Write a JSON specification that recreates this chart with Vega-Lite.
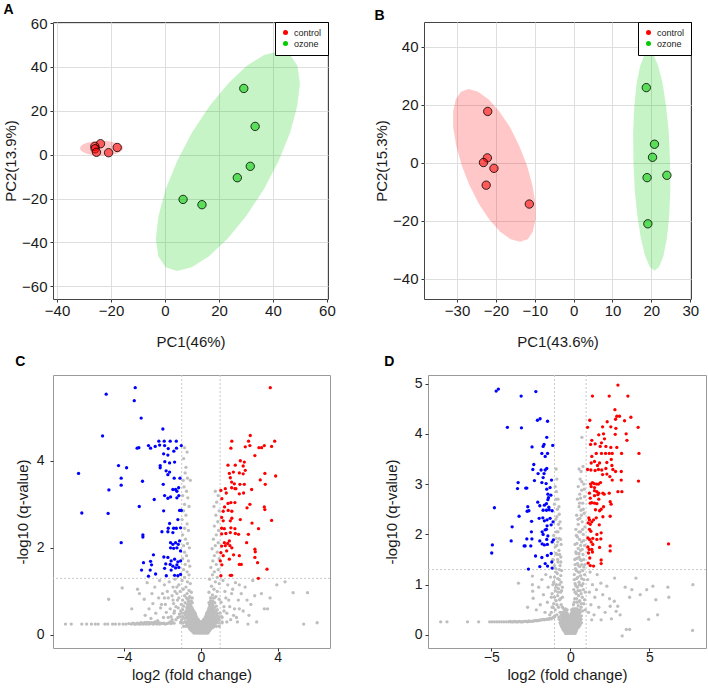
{
"$schema": "https://vega.github.io/schema/vega-lite/v6.json",
"padding": {"left": 3, "top": 2, "right": 0, "bottom": 0},
"background": "white",
"datasets": {
"aPts": [
{"g":"control","x":-23.9,"y":5.0},{"g":"control","x":-26.0,"y":3.8},{"g":"control","x":-25.9,"y":2.7},{"g":"control","x":-25.4,"y":1.1},{"g":"control","x":-20.9,"y":0.9},{"g":"control","x":-17.7,"y":3.3},
{"g":"ozone","x":29.2,"y":30.2},{"g":"ozone","x":33.4,"y":12.9},{"g":"ozone","x":31.6,"y":-5.3},{"g":"ozone","x":26.8,"y":-10.5},{"g":"ozone","x":6.7,"y":-20.4},{"g":"ozone","x":13.7,"y":-22.8}],
"bPts": [
{"g":"control","x":-22.1,"y":17.7},{"g":"control","x":-22.2,"y":1.7},{"g":"control","x":-23.2,"y":0.1},{"g":"control","x":-20.5,"y":-1.9},{"g":"control","x":-22.5,"y":-7.7},{"g":"control","x":-11.4,"y":-14.2},
{"g":"ozone","x":18.7,"y":25.9},{"g":"ozone","x":20.8,"y":6.4},{"g":"ozone","x":20.3,"y":1.9},{"g":"ozone","x":18.9,"y":-5.1},{"g":"ozone","x":24.0,"y":-4.3},{"g":"ozone","x":19.1,"y":-21.0}],
"aEll": [
{"g":"control","t":0,"x":-23.5,"y":6.3},{"g":"control","t":15,"x":-21.4,"y":6.2},{"g":"control","t":30,"x":-19.5,"y":5.8},{"g":"control","t":45,"x":-17.8,"y":5.3},{"g":"control","t":60,"x":-16.6,"y":4.6},{"g":"control","t":75,"x":-15.8,"y":3.8},{"g":"control","t":90,"x":-15.5,"y":2.9},{"g":"control","t":105,"x":-15.8,"y":2.0},{"g":"control","t":120,"x":-16.6,"y":1.2},{"g":"control","t":135,"x":-17.8,"y":0.5},{"g":"control","t":150,"x":-19.5,"y":0.0},{"g":"control","t":165,"x":-21.4,"y":-0.4},{"g":"control","t":180,"x":-23.5,"y":-0.5},{"g":"control","t":195,"x":-25.6,"y":-0.4},{"g":"control","t":210,"x":-27.5,"y":0.0},{"g":"control","t":225,"x":-29.2,"y":0.5},{"g":"control","t":240,"x":-30.4,"y":1.2},{"g":"control","t":255,"x":-31.2,"y":2.0},{"g":"control","t":270,"x":-31.5,"y":2.9},{"g":"control","t":285,"x":-31.2,"y":3.8},{"g":"control","t":300,"x":-30.4,"y":4.6},{"g":"control","t":315,"x":-29.2,"y":5.3},{"g":"control","t":330,"x":-27.5,"y":5.8},{"g":"control","t":345,"x":-25.6,"y":6.2},
{"g":"ozone","t":0,"x":42.2,"y":47.2},{"g":"ozone","t":15,"x":46.4,"y":45.5},{"g":"ozone","t":30,"x":49.1,"y":40.5},{"g":"ozone","t":45,"x":50.0,"y":32.5},{"g":"ozone","t":60,"x":49.0,"y":22.2},{"g":"ozone","t":75,"x":46.4,"y":10.1},{"g":"ozone","t":90,"x":42.1,"y":-2.9},{"g":"ozone","t":105,"x":36.6,"y":-15.9},{"g":"ozone","t":120,"x":30.1,"y":-28.0},{"g":"ozone","t":135,"x":23.2,"y":-38.3},{"g":"ozone","t":150,"x":16.3,"y":-46.3},{"g":"ozone","t":165,"x":9.9,"y":-51.3},{"g":"ozone","t":180,"x":4.4,"y":-53.0},{"g":"ozone","t":195,"x":0.2,"y":-51.3},{"g":"ozone","t":210,"x":-2.5,"y":-46.3},{"g":"ozone","t":225,"x":-3.4,"y":-38.3},{"g":"ozone","t":240,"x":-2.4,"y":-28.0},{"g":"ozone","t":255,"x":0.2,"y":-15.9},{"g":"ozone","t":270,"x":4.5,"y":-2.9},{"g":"ozone","t":285,"x":10.0,"y":10.1},{"g":"ozone","t":300,"x":16.5,"y":22.2},{"g":"ozone","t":315,"x":23.4,"y":32.5},{"g":"ozone","t":330,"x":30.3,"y":40.5},{"g":"ozone","t":345,"x":36.7,"y":45.5}],
"bEll": [
{"g":"control","t":0,"x":-27.0,"y":25.4},{"g":"control","t":15,"x":-24.6,"y":24.5},{"g":"control","t":30,"x":-21.9,"y":21.9},{"g":"control","t":45,"x":-19.1,"y":17.7},{"g":"control","t":60,"x":-16.4,"y":12.3},{"g":"control","t":75,"x":-14.0,"y":5.9},{"g":"control","t":90,"x":-12.0,"y":-0.9},{"g":"control","t":105,"x":-10.6,"y":-7.7},{"g":"control","t":120,"x":-9.8,"y":-14.1},{"g":"control","t":135,"x":-9.8,"y":-19.5},{"g":"control","t":150,"x":-10.5,"y":-23.7},{"g":"control","t":165,"x":-11.8,"y":-26.3},{"g":"control","t":180,"x":-13.8,"y":-27.2},{"g":"control","t":195,"x":-16.2,"y":-26.3},{"g":"control","t":210,"x":-18.9,"y":-23.7},{"g":"control","t":225,"x":-21.7,"y":-19.5},{"g":"control","t":240,"x":-24.4,"y":-14.1},{"g":"control","t":255,"x":-26.8,"y":-7.7},{"g":"control","t":270,"x":-28.8,"y":-0.9},{"g":"control","t":285,"x":-30.2,"y":5.9},{"g":"control","t":300,"x":-31.0,"y":12.3},{"g":"control","t":315,"x":-31.0,"y":17.7},{"g":"control","t":330,"x":-30.3,"y":21.9},{"g":"control","t":345,"x":-29.0,"y":24.5},
{"g":"ozone","t":0,"x":19.4,"y":38.4},{"g":"ozone","t":15,"x":20.6,"y":37.1},{"g":"ozone","t":30,"x":21.8,"y":33.3},{"g":"ozone","t":45,"x":22.9,"y":27.3},{"g":"ozone","t":60,"x":23.8,"y":19.5},{"g":"ozone","t":75,"x":24.5,"y":10.4},{"g":"ozone","t":90,"x":24.8,"y":0.6},{"g":"ozone","t":105,"x":24.9,"y":-9.2},{"g":"ozone","t":120,"x":24.6,"y":-18.3},{"g":"ozone","t":135,"x":24.0,"y":-26.1},{"g":"ozone","t":150,"x":23.1,"y":-32.1},{"g":"ozone","t":165,"x":22.0,"y":-35.9},{"g":"ozone","t":180,"x":20.8,"y":-37.2},{"g":"ozone","t":195,"x":19.6,"y":-35.9},{"g":"ozone","t":210,"x":18.4,"y":-32.1},{"g":"ozone","t":225,"x":17.3,"y":-26.1},{"g":"ozone","t":240,"x":16.4,"y":-18.3},{"g":"ozone","t":255,"x":15.7,"y":-9.2},{"g":"ozone","t":270,"x":15.4,"y":0.6},{"g":"ozone","t":285,"x":15.3,"y":10.4},{"g":"ozone","t":300,"x":15.6,"y":19.5},{"g":"ozone","t":315,"x":16.2,"y":27.3},{"g":"ozone","t":330,"x":17.1,"y":33.3},{"g":"ozone","t":345,"x":18.2,"y":37.1}],
"cGray": [
{"x":-7.05,"y":0.25},{"x":-6.75,"y":0.25},{"x":-6.2,"y":0.25},{"x":-5.95,"y":0.25},{"x":-5.7,"y":0.25},{"x":-5.5,"y":0.25},{"x":-5.35,"y":0.25},{"x":-5.0,"y":0.25},{"x":-4.85,"y":0.25},{"x":-4.6,"y":0.25},{"x":-4.45,"y":0.25},{"x":-4.25,"y":0.25},{"x":-4.05,"y":0.25},{"x":-3.9,"y":0.25},{"x":-3.75,"y":0.26},{"x":-3.62,"y":0.25},{"x":-3.5,"y":0.26},{"x":-3.4,"y":0.25},{"x":-3.3,"y":0.27},{"x":-3.2,"y":0.26},{"x":-3.12,"y":0.28},{"x":-3.05,"y":0.27},{"x":-2.97,"y":0.26},{"x":-2.9,"y":0.28},{"x":-2.82,"y":0.27},{"x":-2.75,"y":0.26},{"x":-2.68,"y":0.28},{"x":-2.6,"y":0.27},{"x":-2.52,"y":0.26},{"x":-2.45,"y":0.28},{"x":-2.38,"y":0.3},{"x":-2.32,"y":0.27},{"x":-2.25,"y":0.33},{"x":-2.15,"y":0.25},{"x":-2.0,"y":0.26},{"x":-1.85,"y":0.25},{"x":-1.7,"y":0.27},
{"x":-3.55,"y":0.27},{"x":-3.45,"y":0.25},{"x":-3.35,"y":0.26},{"x":-3.25,"y":0.25},{"x":-3.15,"y":0.25},{"x":-3.08,"y":0.26},{"x":-3.0,"y":0.25},{"x":-2.93,"y":0.28},{"x":-2.86,"y":0.25},{"x":-2.78,"y":0.29},{"x":-2.71,"y":0.25},{"x":-2.64,"y":0.26},{"x":-2.56,"y":0.28},{"x":-2.48,"y":0.25},{"x":-2.41,"y":0.26},{"x":-2.28,"y":0.25},{"x":-2.2,"y":0.28},{"x":-2.1,"y":0.27},{"x":-1.93,"y":0.27},{"x":-1.78,"y":0.26},{"x":-1.62,"y":0.28},{"x":-1.55,"y":0.26},{"x":-1.48,"y":0.29},{"x":-1.4,"y":0.27},
{"x":-4.1,"y":1.08},{"x":-4.8,"y":0.82},{"x":-3.3,"y":1.05},{"x":-3.2,"y":0.95},{"x":-2.95,"y":0.82},{"x":-2.8,"y":1.2},{"x":-2.7,"y":0.6},{"x":-2.55,"y":0.95},{"x":-2.5,"y":0.72},{"x":-2.4,"y":1.1},{"x":-2.35,"y":0.5},{"x":-2.2,"y":0.85},{"x":-2.15,"y":1.25},{"x":-2.1,"y":0.62},{"x":-2.0,"y":0.95},{"x":-1.95,"y":0.4},{"x":-1.9,"y":1.15},{"x":-1.85,"y":0.7},{"x":-1.8,"y":0.52},{"x":-1.75,"y":1.0},{"x":-1.7,"y":0.85},{"x":-1.65,"y":1.22},{"x":-1.6,"y":0.6},{"x":-1.55,"y":0.42},{"x":-1.5,"y":0.9},{"x":-1.45,"y":1.1},{"x":-1.42,"y":0.72},{"x":-1.38,"y":0.55},{"x":-1.35,"y":1.28},{"x":-1.3,"y":0.35},{"x":-1.25,"y":0.95},{"x":-1.22,"y":0.8},{"x":-1.18,"y":0.62},{"x":-1.15,"y":1.15},{"x":-1.12,"y":0.48},{"x":-1.08,"y":1.0},{"x":-1.05,"y":0.3},{"x":-1.02,"y":0.7},{"x":-2.6,"y":0.38},{"x":-3.6,"y":0.6},{"x":-2.9,"y":0.45},{"x":-1.6,"y":0.3},
{"x":-1.5,"y":0.35},{"x":-1.4,"y":0.5},{"x":-1.3,"y":0.65},{"x":-1.2,"y":0.4},{"x":-1.15,"y":0.85},{"x":-1.05,"y":0.55},{"x":-1.45,"y":0.8},{"x":-1.35,"y":1.0},{"x":-1.25,"y":1.1},{"x":-1.7,"y":0.4},{"x":-1.9,"y":0.85},{"x":-2.05,"y":0.7},
{"x":-0.85,"y":4.3},{"x":-0.72,"y":4.2},{"x":-0.9,"y":4.05},{"x":-0.78,"y":3.85},{"x":-0.82,"y":3.72},{"x":-0.7,"y":3.6},{"x":-0.92,"y":3.55},{"x":-0.55,"y":3.55},{"x":-0.88,"y":3.4},{"x":-0.75,"y":3.3},{"x":-0.95,"y":3.2},{"x":-0.68,"y":3.15},{"x":-0.85,"y":3.0},{"x":-0.62,"y":2.95},{"x":-0.9,"y":2.85},{"x":-0.78,"y":2.75},{"x":-0.98,"y":2.65},{"x":-0.72,"y":2.55},{"x":-0.85,"y":2.45},{"x":-0.65,"y":2.4},{"x":-0.95,"y":2.3},{"x":-0.8,"y":2.2},{"x":-0.7,"y":2.1},{"x":-0.9,"y":2.05},{"x":-0.6,"y":2.0},{"x":-0.85,"y":1.9},{"x":-0.75,"y":1.82},{"x":-0.95,"y":1.75},{"x":-0.65,"y":1.7},{"x":-0.82,"y":1.62},{"x":-0.58,"y":1.58},{"x":-0.9,"y":1.5},{"x":-0.72,"y":1.45},{"x":-0.62,"y":1.38},{"x":-0.85,"y":1.32},{"x":-0.98,"y":1.25},{"x":-0.7,"y":1.22},{"x":-0.55,"y":1.18},{"x":-0.78,"y":1.1},{"x":-0.92,"y":1.05},{"x":-0.62,"y":1.02},{"x":-0.5,"y":0.98},{"x":-0.72,"y":0.95},{"x":-0.85,"y":0.9},{"x":-0.58,"y":0.88},{"x":-0.45,"y":0.85},{"x":-0.68,"y":0.82},{"x":-0.95,"y":0.8},
{"x":0.75,"y":3.3},{"x":0.9,"y":3.2},{"x":0.82,"y":3.05},{"x":0.68,"y":2.95},{"x":0.95,"y":2.85},{"x":0.78,"y":2.75},{"x":0.88,"y":2.6},{"x":0.7,"y":2.5},{"x":0.92,"y":2.4},{"x":0.8,"y":2.3},{"x":0.65,"y":2.2},{"x":0.9,"y":2.12},{"x":0.75,"y":2.05},{"x":0.58,"y":1.98},{"x":0.85,"y":1.9},{"x":0.7,"y":1.82},{"x":0.95,"y":1.75},{"x":0.62,"y":1.7},{"x":0.8,"y":1.62},{"x":0.52,"y":1.55},{"x":0.9,"y":1.5},{"x":0.7,"y":1.45},{"x":0.6,"y":1.38},{"x":0.85,"y":1.32},{"x":0.45,"y":1.28},{"x":0.75,"y":1.22},{"x":0.95,"y":1.18},{"x":0.55,"y":1.12},{"x":0.68,"y":1.05},{"x":0.85,"y":1.0},{"x":0.42,"y":0.98},{"x":0.6,"y":0.92},{"x":0.78,"y":0.88},{"x":0.5,"y":0.85},{"x":0.95,"y":0.82},
{"x":4.38,"y":1.22},{"x":3.95,"y":1.15},{"x":4.8,"y":0.97},{"x":5.55,"y":0.97},{"x":5.35,"y":0.25},{"x":6.05,"y":0.28},{"x":3.3,"y":0.6},{"x":3.47,"y":0.6},{"x":2.8,"y":0.9},{"x":2.6,"y":0.7},{"x":3.15,"y":0.95},{"x":2.3,"y":1.1},{"x":2.2,"y":0.55},{"x":1.95,"y":0.8},{"x":1.8,"y":1.2},{"x":1.7,"y":0.45},{"x":1.6,"y":0.95},{"x":1.5,"y":0.65},{"x":1.4,"y":1.15},{"x":1.35,"y":0.3},{"x":1.3,"y":0.85},{"x":1.2,"y":0.55},{"x":1.15,"y":1.25},{"x":1.1,"y":0.4},{"x":1.05,"y":0.75},{"x":2.45,"y":0.25},{"x":2.9,"y":0.3},{"x":1.9,"y":0.3},{"x":2.7,"y":1.25},{"x":3.6,"y":0.85},{"x":2.5,"y":0.45},{"x":2.1,"y":0.95},
{"x":1.1,"y":0.3},{"x":1.2,"y":0.65},{"x":1.25,"y":1.0},{"x":1.35,"y":0.5},{"x":1.45,"y":0.8},{"x":1.55,"y":0.35},{"x":1.65,"y":1.05},{"x":1.75,"y":0.6},{"x":1.85,"y":0.4},{"x":2.0,"y":0.6},{"x":2.4,"y":0.8},{"x":2.0,"y":1.15},
{"x":-0.35,"y":0.04},{"x":-0.22,"y":0.04},{"x":-0.1,"y":0.04},{"x":0.0,"y":0.04},{"x":0.1,"y":0.04},{"x":0.22,"y":0.04},{"x":0.34,"y":0.04},
{"x":-0.42,"y":0.07},{"x":-0.29,"y":0.07},{"x":-0.16,"y":0.07},{"x":-0.05,"y":0.07},{"x":0.05,"y":0.07},{"x":0.16,"y":0.07},{"x":0.28,"y":0.07},{"x":0.4,"y":0.07},
{"x":-0.5,"y":0.1},{"x":-0.38,"y":0.1},{"x":-0.26,"y":0.1},{"x":-0.14,"y":0.1},{"x":-0.03,"y":0.1},{"x":0.08,"y":0.1},{"x":0.2,"y":0.1},{"x":0.32,"y":0.1},{"x":0.45,"y":0.1},
{"x":-0.56,"y":0.13},{"x":-0.44,"y":0.13},{"x":-0.32,"y":0.13},{"x":-0.2,"y":0.13},{"x":-0.08,"y":0.13},{"x":0.02,"y":0.13},{"x":0.14,"y":0.13},{"x":0.26,"y":0.13},{"x":0.38,"y":0.13},{"x":0.5,"y":0.13},
{"x":-0.62,"y":0.17},{"x":-0.5,"y":0.17},{"x":-0.4,"y":0.17},{"x":-0.29,"y":0.17},{"x":-0.18,"y":0.17},{"x":-0.07,"y":0.17},{"x":0.04,"y":0.17},{"x":0.15,"y":0.17},{"x":0.27,"y":0.17},{"x":0.38,"y":0.17},{"x":0.5,"y":0.17},{"x":0.63,"y":0.17},
{"x":-0.9,"y":0.2},{"x":-0.78,"y":0.2},{"x":-0.66,"y":0.2},{"x":-0.55,"y":0.2},{"x":-0.44,"y":0.2},{"x":-0.34,"y":0.2},{"x":-0.23,"y":0.2},{"x":-0.12,"y":0.2},{"x":-0.01,"y":0.2},{"x":0.1,"y":0.2},{"x":0.21,"y":0.2},{"x":0.32,"y":0.2},{"x":0.44,"y":0.2},{"x":0.56,"y":0.2},{"x":0.68,"y":0.2},{"x":0.8,"y":0.2},{"x":0.95,"y":0.2},
{"x":-0.72,"y":0.24},{"x":-0.6,"y":0.24},{"x":-0.47,"y":0.24},{"x":-0.35,"y":0.24},{"x":-0.24,"y":0.24},{"x":-0.12,"y":0.24},{"x":0.0,"y":0.24},{"x":0.12,"y":0.24},{"x":0.24,"y":0.24},{"x":0.35,"y":0.24},{"x":0.47,"y":0.24},{"x":0.6,"y":0.24},{"x":0.72,"y":0.24},
{"x":-1.05,"y":0.28},{"x":-0.92,"y":0.28},{"x":-0.76,"y":0.28},{"x":-0.64,"y":0.28},{"x":-0.5,"y":0.28},{"x":-0.38,"y":0.28},{"x":-0.27,"y":0.28},{"x":-0.15,"y":0.28},{"x":-0.03,"y":0.28},{"x":0.09,"y":0.28},{"x":0.21,"y":0.28},{"x":0.29,"y":0.28},{"x":0.41,"y":0.28},{"x":0.53,"y":0.28},{"x":0.65,"y":0.28},{"x":0.78,"y":0.28},{"x":0.92,"y":0.28},{"x":1.1,"y":0.28},
{"x":-0.8,"y":0.31},{"x":-0.66,"y":0.31},{"x":-0.53,"y":0.31},{"x":-0.41,"y":0.31},{"x":-0.3,"y":0.31},{"x":-0.18,"y":0.31},{"x":-0.06,"y":0.31},{"x":0.07,"y":0.31},{"x":0.19,"y":0.31},{"x":0.31,"y":0.31},{"x":0.43,"y":0.31},{"x":0.55,"y":0.31},{"x":0.68,"y":0.31},{"x":0.82,"y":0.31},
{"x":-1.0,"y":0.35},{"x":-0.62,"y":0.35},{"x":-0.5,"y":0.35},{"x":-0.38,"y":0.35},{"x":-0.26,"y":0.35},{"x":-0.13,"y":0.35},{"x":0.13,"y":0.35},{"x":0.26,"y":0.35},{"x":0.4,"y":0.35},{"x":0.52,"y":0.35},{"x":0.64,"y":0.35},{"x":0.78,"y":0.35},{"x":0.95,"y":0.35},
{"x":-0.85,"y":0.38},{"x":-0.7,"y":0.38},{"x":-0.58,"y":0.38},{"x":-0.46,"y":0.38},{"x":-0.33,"y":0.38},{"x":-0.2,"y":0.38},{"x":0.2,"y":0.38},{"x":0.33,"y":0.38},{"x":0.46,"y":0.38},{"x":0.58,"y":0.38},{"x":0.72,"y":0.38},{"x":0.88,"y":0.38},
{"x":-1.1,"y":0.42},{"x":-0.95,"y":0.42},{"x":-0.76,"y":0.42},{"x":-0.62,"y":0.42},{"x":-0.5,"y":0.42},{"x":-0.37,"y":0.42},{"x":-0.24,"y":0.42},{"x":0.24,"y":0.42},{"x":0.37,"y":0.42},{"x":0.5,"y":0.42},{"x":0.62,"y":0.42},{"x":0.76,"y":0.42},{"x":0.92,"y":0.42},{"x":1.08,"y":0.42},
{"x":-0.82,"y":0.46},{"x":-0.68,"y":0.46},{"x":-0.55,"y":0.46},{"x":-0.42,"y":0.46},{"x":-0.28,"y":0.46},{"x":0.28,"y":0.46},{"x":0.42,"y":0.46},{"x":0.55,"y":0.46},{"x":0.68,"y":0.46},{"x":0.83,"y":0.46},
{"x":-1.0,"y":0.5},{"x":-0.86,"y":0.5},{"x":-0.72,"y":0.5},{"x":-0.57,"y":0.5},{"x":-0.43,"y":0.5},{"x":-0.3,"y":0.5},{"x":0.3,"y":0.5},{"x":0.43,"y":0.5},{"x":0.57,"y":0.5},{"x":0.7,"y":0.5},{"x":0.86,"y":0.5},{"x":1.0,"y":0.5},
{"x":-0.78,"y":0.54},{"x":-0.63,"y":0.54},{"x":-0.5,"y":0.54},{"x":-0.36,"y":0.54},{"x":0.36,"y":0.54},{"x":0.5,"y":0.54},{"x":0.62,"y":0.54},{"x":0.76,"y":0.54},
{"x":-0.95,"y":0.58},{"x":-0.7,"y":0.58},{"x":-0.55,"y":0.58},{"x":-0.42,"y":0.58},{"x":0.4,"y":0.58},{"x":0.55,"y":0.58},{"x":0.68,"y":0.58},{"x":0.85,"y":0.58},
{"x":-0.74,"y":0.62},{"x":-0.6,"y":0.62},{"x":-0.46,"y":0.62},{"x":0.42,"y":0.62},{"x":0.55,"y":0.62},{"x":0.7,"y":0.62},
{"x":-0.9,"y":0.66},{"x":-0.68,"y":0.66},{"x":-0.52,"y":0.66},{"x":0.48,"y":0.66},{"x":0.63,"y":0.66},{"x":0.8,"y":0.66},
{"x":-0.7,"y":0.7},{"x":-0.56,"y":0.7},{"x":0.45,"y":0.7},{"x":0.6,"y":0.7},
{"x":-0.82,"y":0.74},{"x":-0.62,"y":0.74},{"x":-0.45,"y":0.74},{"x":0.42,"y":0.74},{"x":0.56,"y":0.74},{"x":0.72,"y":0.74},
{"x":-0.65,"y":0.78},{"x":-0.5,"y":0.78},{"x":0.5,"y":0.78},{"x":0.62,"y":0.78},{"x":-0.6,"y":0.85},{"x":-0.75,"y":0.85},{"x":0.55,"y":0.85},{"x":0.7,"y":0.85}],
"cDown": [
{"x":-3.42,"y":5.68},{"x":-4.93,"y":5.53},{"x":-3.47,"y":5.38},{"x":-3.11,"y":4.98},{"x":-1.98,"y":4.73},{"x":-5.12,"y":4.57},
{"x":-2.19,"y":4.45},{"x":-1.91,"y":4.45},{"x":-1.6,"y":4.45},{"x":-1.28,"y":4.45},{"x":-3.32,"y":4.29},{"x":-3.23,"y":4.3},
{"x":-2.73,"y":4.35},{"x":-2.62,"y":4.29},{"x":-2.38,"y":4.33},{"x":-2.15,"y":4.36},{"x":-1.89,"y":4.35},{"x":-1.7,"y":4.28},{"x":-1.27,"y":4.29},{"x":-1.02,"y":4.35},
{"x":-1.94,"y":4.16},{"x":-1.72,"y":4.13},{"x":-1.41,"y":4.22},{"x":-1.88,"y":3.98},{"x":-1.63,"y":3.95},{"x":-1.37,"y":3.97},
{"x":-4.29,"y":3.89},{"x":-3.87,"y":3.84},{"x":-2.12,"y":3.89},{"x":-2.12,"y":3.84},{"x":-1.81,"y":3.77},{"x":-1.63,"y":3.74},{"x":-1.72,"y":3.68},
{"x":-6.37,"y":3.71},{"x":-4.15,"y":3.6},{"x":-4.15,"y":3.44},{"x":-3.04,"y":3.53},{"x":-1.39,"y":3.6},{"x":-1.09,"y":3.6},{"x":-4.79,"y":3.33},{"x":-1.96,"y":3.46},
{"x":-1.46,"y":3.34},{"x":-1.32,"y":3.34},{"x":-1.16,"y":3.38},{"x":-1.25,"y":3.3},{"x":-2.43,"y":3.11},
{"x":-1.89,"y":3.2},{"x":-1.72,"y":3.14},{"x":-1.58,"y":3.17},{"x":-1.25,"y":3.15},{"x":-1.15,"y":3.2},
{"x":-3.21,"y":2.95},{"x":-6.2,"y":2.8},{"x":-4.83,"y":2.79},{"x":-1.94,"y":2.85},{"x":-1.11,"y":2.86},{"x":-1.02,"y":2.86},{"x":-1.2,"y":2.65},
{"x":-1.63,"y":2.56},{"x":-1.42,"y":2.45},{"x":-1.7,"y":2.45},{"x":-1.28,"y":2.45},{"x":-1.06,"y":2.46},{"x":-2.03,"y":2.37},{"x":-1.72,"y":2.37},{"x":-1.46,"y":2.35},
{"x":-3.02,"y":2.3},{"x":-3.02,"y":2.25},{"x":-4.15,"y":2.12},
{"x":-1.58,"y":2.12},{"x":-1.46,"y":2.08},{"x":-1.32,"y":2.12},{"x":-1.18,"y":2.08},{"x":-1.11,"y":2.16},{"x":-1.58,"y":2.0},{"x":-1.42,"y":1.99},{"x":-1.25,"y":2.0},{"x":-1.06,"y":1.93},
{"x":-2.47,"y":1.84},{"x":-1.93,"y":1.79},{"x":-1.72,"y":1.78},{"x":-1.55,"y":1.7},{"x":-1.37,"y":1.74},{"x":-1.2,"y":1.68},{"x":-1.06,"y":1.7},
{"x":-2.99,"y":1.66},{"x":-2.62,"y":1.69},{"x":-2.57,"y":1.61},{"x":-1.83,"y":1.63},{"x":-1.6,"y":1.62},{"x":-1.46,"y":1.58},{"x":-1.25,"y":1.61},{"x":-1.15,"y":1.55},
{"x":-3.09,"y":1.49},{"x":-2.64,"y":1.49},{"x":-2.36,"y":1.4},{"x":-1.89,"y":1.53},{"x":-1.55,"y":1.49},{"x":-1.32,"y":1.54},{"x":-2.73,"y":1.35},{"x":-1.8,"y":1.36},{"x":-1.37,"y":1.37},{"x":-1.2,"y":1.36},{"x":-1.06,"y":1.39}],
"cUp": [
{"x":3.61,"y":5.68},{"x":2.57,"y":4.58},{"x":1.61,"y":4.45},{"x":2.48,"y":4.45},{"x":3.84,"y":4.45},{"x":1.56,"y":4.29},{"x":2.31,"y":4.32},{"x":2.55,"y":4.35},{"x":3.02,"y":4.3},{"x":3.16,"y":4.3},{"x":3.3,"y":4.35},{"x":3.68,"y":4.33},{"x":2.81,"y":4.12},
{"x":1.41,"y":3.9},{"x":1.79,"y":3.9},{"x":2.05,"y":4.0},{"x":2.26,"y":3.97},{"x":2.2,"y":3.88},{"x":1.48,"y":3.71},{"x":1.69,"y":3.74},{"x":2.0,"y":3.72},{"x":2.31,"y":3.78},{"x":2.2,"y":3.7},{"x":3.33,"y":3.71},{"x":3.89,"y":3.65},
{"x":1.53,"y":3.61},{"x":1.6,"y":3.51},{"x":1.74,"y":3.47},{"x":2.03,"y":3.46},{"x":2.26,"y":3.46},{"x":1.82,"y":3.36},{"x":3.09,"y":3.56},{"x":3.35,"y":3.46},
{"x":1.04,"y":3.32},{"x":1.27,"y":3.36},{"x":1.32,"y":3.26},{"x":1.6,"y":3.38},{"x":1.77,"y":3.36},{"x":2.0,"y":3.24},{"x":2.22,"y":3.26},{"x":2.64,"y":3.34},
{"x":1.09,"y":3.13},{"x":1.41,"y":3.02},{"x":1.56,"y":3.04},{"x":1.77,"y":3.04},{"x":2.55,"y":3.0},{"x":2.4,"y":2.92},{"x":3.3,"y":2.94},{"x":3.33,"y":2.88},
{"x":1.23,"y":2.94},{"x":1.16,"y":2.84},{"x":1.42,"y":2.86},{"x":1.61,"y":2.84},{"x":1.08,"y":2.7},{"x":1.16,"y":2.62},{"x":1.53,"y":2.62},{"x":1.61,"y":2.68},{"x":2.05,"y":2.65},{"x":2.66,"y":2.57},{"x":3.68,"y":2.63},
{"x":1.08,"y":2.45},{"x":1.22,"y":2.44},{"x":1.56,"y":2.46},{"x":1.77,"y":2.44},{"x":3.0,"y":2.44},{"x":1.08,"y":2.32},{"x":1.3,"y":2.33},{"x":1.53,"y":2.35},{"x":1.79,"y":2.33},{"x":1.96,"y":2.31},{"x":2.47,"y":2.31},
{"x":1.22,"y":2.12},{"x":1.39,"y":2.1},{"x":1.48,"y":2.16},{"x":1.27,"y":2.05},{"x":1.51,"y":2.05},{"x":1.61,"y":2.0},{"x":1.34,"y":1.93},{"x":2.38,"y":2.12},{"x":2.81,"y":1.97},{"x":2.83,"y":1.91},
{"x":1.08,"y":2.04},{"x":1.04,"y":1.89},{"x":1.16,"y":1.82},{"x":1.48,"y":1.74},{"x":1.7,"y":1.84},{"x":2.0,"y":1.82},{"x":2.81,"y":1.78},{"x":2.95,"y":1.66},
{"x":1.01,"y":1.7},{"x":1.09,"y":1.61},{"x":2.0,"y":1.62},{"x":2.1,"y":1.62},{"x":3.44,"y":1.51},{"x":1.53,"y":1.37},{"x":1.6,"y":1.37},{"x":2.99,"y":1.3},{"x":1.04,"y":1.36}],
"dGray": [
{"x":-8.2,"y":0.26},{"x":-7.8,"y":0.26},{"x":-6.5,"y":0.26},{"x":-5.8,"y":0.26},{"x":-5.1,"y":0.26},{"x":-4.95,"y":0.26},{"x":-4.8,"y":0.26},{"x":-4.65,"y":0.26},{"x":-4.5,"y":0.26},{"x":-4.35,"y":0.26},{"x":-4.2,"y":0.26},{"x":-4.05,"y":0.26},{"x":-3.9,"y":0.26},{"x":-3.75,"y":0.26},{"x":-3.6,"y":0.26},{"x":-3.45,"y":0.26},{"x":-3.3,"y":0.26},{"x":-3.15,"y":0.26},{"x":-3.0,"y":0.26},{"x":-2.85,"y":0.27},{"x":-2.7,"y":0.26},{"x":-2.55,"y":0.27},{"x":-2.4,"y":0.27},{"x":-2.25,"y":0.28},{"x":-2.1,"y":0.28},{"x":-1.95,"y":0.29},{"x":-1.8,"y":0.3},{"x":-1.65,"y":0.3},{"x":-1.5,"y":0.31},{"x":-1.35,"y":0.31},{"x":-1.2,"y":0.32},
{"x":-3.82,"y":0.27},{"x":-3.68,"y":0.26},{"x":-3.52,"y":0.27},{"x":-3.38,"y":0.26},{"x":-3.22,"y":0.27},{"x":-3.08,"y":0.26},{"x":-2.92,"y":0.27},{"x":-2.78,"y":0.27},{"x":-2.62,"y":0.28},{"x":-2.48,"y":0.27},{"x":-2.32,"y":0.28},{"x":-2.18,"y":0.29},{"x":-2.02,"y":0.29},{"x":-1.88,"y":0.3},{"x":-1.72,"y":0.31},{"x":-1.58,"y":0.31},{"x":-1.42,"y":0.32},{"x":-1.28,"y":0.33},{"x":-1.12,"y":0.34},{"x":-1.0,"y":0.36},
{"x":-3.28,"y":1.03},{"x":-2.4,"y":1.17},{"x":-2.4,"y":1.0},{"x":-2.38,"y":0.87},{"x":-2.35,"y":0.73},{"x":-2.0,"y":0.95},{"x":-1.9,"y":0.6},{"x":-1.8,"y":1.1},{"x":-1.7,"y":0.8},{"x":-1.6,"y":0.45},{"x":-1.55,"y":1.2},{"x":-1.45,"y":0.65},{"x":-1.4,"y":0.95},{"x":-1.3,"y":0.4},{"x":-1.25,"y":1.15},{"x":-1.2,"y":0.75},{"x":-1.15,"y":0.55},{"x":-1.1,"y":1.0},{"x":-1.05,"y":0.35},{"x":-2.15,"y":0.5},{"x":-2.7,"y":0.55},
{"x":-0.9,"y":3.3},{"x":-0.85,"y":3.1},{"x":-0.95,"y":2.95},{"x":-0.88,"y":2.85},{"x":-0.78,"y":2.7},{"x":-1.0,"y":2.6},{"x":-0.82,"y":2.5},{"x":-0.7,"y":2.4},{"x":-0.92,"y":2.3},{"x":-0.75,"y":2.2},{"x":-0.62,"y":2.12},{"x":-0.88,"y":2.05},{"x":-1.05,"y":1.98},{"x":-0.7,"y":1.92},{"x":-0.8,"y":1.85},{"x":-0.58,"y":1.8},{"x":-0.95,"y":1.75},{"x":-0.72,"y":1.68},{"x":-0.85,"y":1.6},{"x":-0.6,"y":1.55},{"x":-1.1,"y":1.5},{"x":-0.78,"y":1.45},{"x":-0.65,"y":1.38},{"x":-0.92,"y":1.32},{"x":-0.55,"y":1.28},{"x":-0.82,"y":1.22},{"x":-1.0,"y":1.15},{"x":-0.7,"y":1.1},{"x":-0.58,"y":1.05},{"x":-0.88,"y":1.0},{"x":-0.5,"y":0.95},{"x":-0.75,"y":0.92},{"x":-0.95,"y":0.88},{"x":-0.62,"y":0.85},{"x":-1.15,"y":0.82},{"x":-0.8,"y":0.78},{"x":-0.5,"y":0.75},{"x":-0.68,"y":0.7},{"x":-0.9,"y":0.68},{"x":-1.05,"y":0.62},{"x":-0.58,"y":0.6},{"x":-0.75,"y":0.55},{"x":-0.95,"y":0.5},{"x":-1.2,"y":0.45},{"x":-0.65,"y":0.45},{"x":-0.85,"y":0.4},
{"x":-0.55,"y":0.4},{"x":-0.72,"y":0.35},{"x":-0.98,"y":0.38},{"x":-1.1,"y":0.55},{"x":-0.5,"y":0.55},{"x":-0.85,"y":0.6},{"x":-0.62,"y":0.72},{"x":-1.0,"y":0.75},{"x":-0.78,"y":0.85},{"x":-0.55,"y":0.88},{"x":-0.9,"y":0.95},{"x":-0.68,"y":1.0},{"x":-1.05,"y":1.05},{"x":-0.8,"y":1.12},{"x":-0.6,"y":1.18},{"x":-0.9,"y":1.25},{"x":-0.7,"y":1.3},{"x":-1.0,"y":1.38},{"x":-0.8,"y":1.5},{"x":-0.6,"y":1.45},{"x":-0.9,"y":1.62},{"x":-0.68,"y":1.6},{"x":-0.85,"y":1.78},{"x":-0.62,"y":1.9},{"x":-0.9,"y":1.92},{"x":-0.78,"y":2.05},{"x":-0.65,"y":2.25},{"x":-0.85,"y":2.35},{"x":-0.72,"y":2.55},{"x":-0.9,"y":2.7},
{"x":0.73,"y":3.93},{"x":0.55,"y":3.3},{"x":0.68,"y":3.25},{"x":0.8,"y":3.35},{"x":0.62,"y":3.1},{"x":0.85,"y":3.0},{"x":0.5,"y":2.95},{"x":0.72,"y":2.88},{"x":0.6,"y":2.8},{"x":0.9,"y":2.75},{"x":0.45,"y":2.7},{"x":0.78,"y":2.62},{"x":0.55,"y":2.55},{"x":0.68,"y":2.48},{"x":0.88,"y":2.42},{"x":0.4,"y":2.38},{"x":0.6,"y":2.32},{"x":0.75,"y":2.25},{"x":0.5,"y":2.2},{"x":0.92,"y":2.15},{"x":0.35,"y":2.1},{"x":0.65,"y":2.05},{"x":0.82,"y":2.0},{"x":0.45,"y":1.95},{"x":0.58,"y":1.9},{"x":0.72,"y":1.85},{"x":0.3,"y":1.8},{"x":0.9,"y":1.78},{"x":0.5,"y":1.72},{"x":0.65,"y":1.68},{"x":0.38,"y":1.62},{"x":0.8,"y":1.6},{"x":0.55,"y":1.55},{"x":0.28,"y":1.5},{"x":0.7,"y":1.48},{"x":0.45,"y":1.42},{"x":0.92,"y":1.4},{"x":0.6,"y":1.36},{"x":0.33,"y":1.32},{"x":0.78,"y":1.28},{"x":0.5,"y":1.25},{"x":0.25,"y":1.2},{"x":0.65,"y":1.18},{"x":0.4,"y":1.12},{"x":0.85,"y":1.1},{"x":0.55,"y":1.05},{"x":0.3,"y":1.02},{"x":0.72,"y":0.98},{"x":0.45,"y":0.95},{"x":0.22,"y":0.9},{"x":0.62,"y":0.88},{"x":0.95,"y":0.85},{"x":0.38,"y":0.82},{"x":0.52,"y":0.78},{"x":0.75,"y":0.75},{"x":0.28,"y":0.72},{"x":0.6,"y":0.68},{"x":0.42,"y":0.65},{"x":0.85,"y":0.62},{"x":0.2,"y":0.6},{"x":0.5,"y":0.58},{"x":0.68,"y":0.55},{"x":0.35,"y":0.52},{"x":0.95,"y":0.5},
{"x":0.3,"y":0.45},{"x":0.45,"y":0.42},{"x":0.6,"y":0.5},{"x":0.78,"y":0.48},{"x":0.25,"y":0.65},{"x":0.4,"y":0.72},{"x":0.55,"y":0.66},{"x":0.7,"y":0.62},{"x":0.9,"y":0.7},{"x":0.3,"y":0.85},{"x":0.48,"y":0.88},{"x":0.68,"y":0.82},{"x":0.82,"y":0.9},{"x":0.35,"y":0.98},{"x":0.58,"y":1.0},{"x":0.8,"y":1.02},{"x":0.25,"y":1.1},{"x":0.48,"y":1.15},{"x":0.72,"y":1.12},{"x":0.9,"y":1.2},{"x":0.38,"y":1.28},{"x":0.6,"y":1.25},{"x":0.85,"y":1.35},{"x":0.3,"y":1.4},{"x":0.52,"y":1.38},{"x":0.72,"y":1.4},{"x":0.4,"y":1.52},{"x":0.62,"y":1.5},{"x":0.85,"y":1.5},{"x":0.35,"y":1.65},{"x":0.55,"y":1.62},{"x":0.75,"y":1.7},{"x":0.42,"y":1.82},{"x":0.65,"y":1.78},{"x":0.85,"y":1.88},{"x":0.38,"y":1.98},{"x":0.55,"y":2.05},{"x":0.78,"y":2.1},{"x":0.48,"y":2.3},{"x":0.7,"y":2.38},{"x":0.58,"y":2.62},{"x":0.82,"y":2.5},{"x":0.65,"y":2.72},{"x":0.72,"y":3.05},{"x":0.88,"y":2.9},
{"x":2.8,"y":1.13},{"x":4.15,"y":1.13},{"x":3.47,"y":0.95},{"x":3.89,"y":0.9},{"x":3.75,"y":0.75},{"x":4.42,"y":0.8},{"x":4.83,"y":0.9},{"x":5.22,"y":0.97},{"x":5.41,"y":0.7},{"x":6.17,"y":0.95},{"x":6.23,"y":0.75},{"x":7.75,"y":1.0},{"x":7.73,"y":0.09},{"x":4.95,"y":0.31},{"x":5.52,"y":0.4},{"x":3.54,"y":0.11},{"x":3.75,"y":0.11},{"x":3.28,"y":-0.02},{"x":2.48,"y":0.72},{"x":2.52,"y":0.57},{"x":2.78,"y":0.67},{"x":3.0,"y":0.57},{"x":3.15,"y":0.4},{"x":2.9,"y":0.47},{"x":2.6,"y":0.32},{"x":1.93,"y":1.03},{"x":2.31,"y":0.97},{"x":1.65,"y":0.9},{"x":1.55,"y":0.75},{"x":1.4,"y":1.0},{"x":1.3,"y":0.6},{"x":1.2,"y":0.85},{"x":1.15,"y":0.45},{"x":1.1,"y":1.1},{"x":1.5,"y":0.4},{"x":1.8,"y":0.55},{"x":2.05,"y":0.8},{"x":2.2,"y":0.45},{"x":1.95,"y":0.3},{"x":1.35,"y":0.3},{"x":1.7,"y":1.2},{"x":1.25,"y":1.25},
{"x":-0.3,"y":0.03},{"x":-0.18,"y":0.03},{"x":-0.06,"y":0.03},{"x":0.06,"y":0.03},{"x":0.18,"y":0.03},{"x":0.3,"y":0.03},
{"x":-0.36,"y":0.07},{"x":-0.24,"y":0.07},{"x":-0.12,"y":0.07},{"x":0.0,"y":0.07},{"x":0.12,"y":0.07},{"x":0.24,"y":0.07},{"x":0.36,"y":0.07},
{"x":-0.45,"y":0.1},{"x":-0.33,"y":0.1},{"x":-0.21,"y":0.1},{"x":-0.09,"y":0.1},{"x":0.03,"y":0.1},{"x":0.15,"y":0.1},{"x":0.27,"y":0.1},{"x":0.39,"y":0.1},
{"x":-0.5,"y":0.14},{"x":-0.36,"y":0.14},{"x":-0.24,"y":0.14},{"x":-0.12,"y":0.14},{"x":0.0,"y":0.14},{"x":0.12,"y":0.14},{"x":0.24,"y":0.14},{"x":0.36,"y":0.14},{"x":0.48,"y":0.14},
{"x":-0.55,"y":0.17},{"x":-0.42,"y":0.17},{"x":-0.3,"y":0.17},{"x":-0.18,"y":0.17},{"x":-0.06,"y":0.17},{"x":0.06,"y":0.17},{"x":0.18,"y":0.17},{"x":0.3,"y":0.17},{"x":0.42,"y":0.17},{"x":0.55,"y":0.17},
{"x":-0.6,"y":0.2},{"x":-0.46,"y":0.2},{"x":-0.34,"y":0.2},{"x":-0.22,"y":0.2},{"x":-0.1,"y":0.2},{"x":0.02,"y":0.2},{"x":0.14,"y":0.2},{"x":0.26,"y":0.2},{"x":0.38,"y":0.2},{"x":0.5,"y":0.2},{"x":0.62,"y":0.2},
{"x":-0.65,"y":0.24},{"x":-0.52,"y":0.24},{"x":-0.4,"y":0.24},{"x":-0.28,"y":0.24},{"x":-0.16,"y":0.24},{"x":-0.04,"y":0.24},{"x":0.08,"y":0.24},{"x":0.2,"y":0.24},{"x":0.32,"y":0.24},{"x":0.44,"y":0.24},{"x":0.56,"y":0.24},{"x":0.7,"y":0.24},
{"x":-0.62,"y":0.28},{"x":-0.48,"y":0.28},{"x":-0.35,"y":0.28},{"x":-0.22,"y":0.28},{"x":-0.1,"y":0.28},{"x":0.02,"y":0.28},{"x":0.14,"y":0.28},{"x":0.26,"y":0.28},{"x":0.38,"y":0.28},{"x":0.5,"y":0.28},{"x":0.62,"y":0.28},
{"x":-0.7,"y":0.31},{"x":-0.55,"y":0.31},{"x":-0.42,"y":0.31},{"x":-0.3,"y":0.31},{"x":-0.18,"y":0.31},{"x":-0.06,"y":0.31},{"x":0.06,"y":0.31},{"x":0.18,"y":0.31},{"x":0.3,"y":0.31},{"x":0.42,"y":0.31},{"x":0.55,"y":0.31},{"x":0.68,"y":0.31},
{"x":-0.5,"y":0.35},{"x":-0.36,"y":0.35},{"x":-0.24,"y":0.35},{"x":-0.12,"y":0.35},{"x":0.0,"y":0.35},{"x":0.12,"y":0.35},{"x":0.24,"y":0.35},{"x":0.36,"y":0.35},{"x":0.48,"y":0.35},{"x":0.62,"y":0.35},
{"x":-0.6,"y":0.38},{"x":-0.45,"y":0.38},{"x":-0.32,"y":0.38},{"x":-0.2,"y":0.38},{"x":-0.08,"y":0.38},{"x":0.05,"y":0.38},{"x":0.17,"y":0.38},{"x":0.3,"y":0.38},{"x":0.42,"y":0.38},{"x":0.55,"y":0.38},{"x":0.7,"y":0.38},
{"x":-0.44,"y":0.42},{"x":-0.3,"y":0.42},{"x":-0.18,"y":0.42},{"x":0.04,"y":0.42},{"x":0.16,"y":0.42},{"x":0.28,"y":0.42},{"x":0.42,"y":0.42},{"x":0.55,"y":0.42},
{"x":-0.5,"y":0.45},{"x":-0.38,"y":0.45},{"x":-0.25,"y":0.45},{"x":0.1,"y":0.45},{"x":0.22,"y":0.45},{"x":0.35,"y":0.45},{"x":0.48,"y":0.45},{"x":0.62,"y":0.45},
{"x":-0.36,"y":0.5},{"x":-0.2,"y":0.5},{"x":0.08,"y":0.5},{"x":0.2,"y":0.5},{"x":0.34,"y":0.5},{"x":0.48,"y":0.5},
{"x":-0.42,"y":0.52},{"x":-0.3,"y":0.52},{"x":0.15,"y":0.52},{"x":0.28,"y":0.52},{"x":0.4,"y":0.52}],
"dDown": [
{"x":-4.69,"y":4.85},{"x":-4.55,"y":4.89},{"x":-3.11,"y":4.75},{"x":-2.18,"y":4.84},{"x":-2.08,"y":4.27},{"x":-1.91,"y":4.3},{"x":-1.44,"y":4.25},{"x":-3.98,"y":4.13},{"x":-3.09,"y":4.12},
{"x":-1.49,"y":3.93},{"x":-2.42,"y":3.74},{"x":-1.72,"y":3.75},{"x":-1.66,"y":3.79},{"x":-1.11,"y":3.77},{"x":-1.8,"y":3.61},{"x":-1.44,"y":3.61},{"x":-1.59,"y":3.55},
{"x":-2.31,"y":3.39},{"x":-2.37,"y":3.29},{"x":-2.04,"y":3.21},{"x":-1.85,"y":3.28},{"x":-1.66,"y":3.21},{"x":-1.59,"y":3.28},{"x":-1.49,"y":3.31},{"x":-1.72,"y":3.13},
{"x":-3.3,"y":3.03},{"x":-3.34,"y":2.91},{"x":-2.82,"y":2.92},{"x":-2.75,"y":2.92},{"x":-2.27,"y":3.07},
{"x":-1.8,"y":3.03},{"x":-1.53,"y":3.01},{"x":-1.49,"y":2.9},{"x":-1.28,"y":2.93},{"x":-1.19,"y":3.08},{"x":-1.42,"y":2.8},{"x":-1.23,"y":2.78},{"x":-1.38,"y":2.73},
{"x":-4.8,"y":2.53},{"x":-2.69,"y":2.55},{"x":-2.62,"y":2.47},{"x":-2.73,"y":2.46},
{"x":-2.06,"y":2.64},{"x":-1.93,"y":2.57},{"x":-1.64,"y":2.58},{"x":-1.51,"y":2.61},{"x":-1.42,"y":2.69},{"x":-1.36,"y":2.54},{"x":-1.72,"y":2.48},{"x":-1.51,"y":2.48},{"x":-1.34,"y":2.49},{"x":-1.15,"y":2.47},
{"x":-3.24,"y":2.36},{"x":-2.45,"y":2.26},{"x":-1.97,"y":2.32},{"x":-1.74,"y":2.33},{"x":-1.64,"y":2.27},{"x":-1.47,"y":2.29},{"x":-1.28,"y":2.32},{"x":-1.09,"y":2.25},{"x":-1.21,"y":2.19},{"x":-1.47,"y":2.17},
{"x":-3.68,"y":2.15},{"x":-2.46,"y":2.05},{"x":-1.78,"y":2.05},{"x":-1.51,"y":2.1},{"x":-1.72,"y":2.0},{"x":-1.59,"y":2.09},{"x":-1.42,"y":1.97},
{"x":-3.74,"y":1.87},{"x":-2.75,"y":1.91},{"x":-2.43,"y":1.91},{"x":-1.93,"y":1.87},{"x":-1.49,"y":1.9},{"x":-1.07,"y":1.89},
{"x":-4.93,"y":1.79},{"x":-2.92,"y":1.77},{"x":-2.86,"y":1.77},{"x":-2.5,"y":1.77},{"x":-1.78,"y":1.81},{"x":-1.64,"y":1.79},{"x":-1.45,"y":1.8},{"x":-1.15,"y":1.85},
{"x":-4.97,"y":1.63},{"x":-2.2,"y":1.57},{"x":-1.8,"y":1.54},{"x":-1.45,"y":1.58},{"x":-1.21,"y":1.62},{"x":-1.59,"y":1.42},{"x":-1.17,"y":1.45},{"x":-1.93,"y":1.36},{"x":-1.44,"y":1.37},{"x":-1.15,"y":1.33},{"x":-2.65,"y":1.31}],
"dUp": [
{"x":3.01,"y":4.97},{"x":1.4,"y":4.75},{"x":2.46,"y":4.75},{"x":3.64,"y":4.75},{"x":2.82,"y":4.48},
{"x":2.94,"y":4.35},{"x":3.11,"y":4.35},{"x":2.86,"y":4.29},{"x":3.83,"y":4.33},{"x":3.43,"y":4.26},{"x":2.33,"y":4.24},{"x":1.23,"y":4.27},
{"x":2.04,"y":4.14},{"x":2.56,"y":4.14},{"x":4.29,"y":4.13},{"x":2.88,"y":4.11},{"x":3.53,"y":4.0},{"x":3.58,"y":3.87},{"x":1.09,"y":4.13},
{"x":2.84,"y":3.99},{"x":2.1,"y":4.0},{"x":1.8,"y":3.98},{"x":2.16,"y":3.9},
{"x":1.36,"y":3.87},{"x":1.28,"y":3.79},{"x":1.57,"y":3.8},{"x":1.97,"y":3.82},{"x":2.25,"y":3.75},{"x":2.56,"y":3.73},{"x":2.94,"y":3.73},{"x":1.89,"y":3.75},
{"x":1.36,"y":3.55},{"x":1.64,"y":3.61},{"x":1.97,"y":3.61},{"x":2.23,"y":3.61},{"x":2.46,"y":3.61},{"x":2.65,"y":3.61},{"x":3.24,"y":3.61},{"x":4.34,"y":3.61},
{"x":1.32,"y":3.42},{"x":1.53,"y":3.45},{"x":1.72,"y":3.37},{"x":1.85,"y":3.42},{"x":2.31,"y":3.43},{"x":2.63,"y":3.37},{"x":2.59,"y":3.49},
{"x":1.09,"y":3.29},{"x":1.3,"y":3.28},{"x":1.57,"y":3.27},{"x":1.78,"y":3.29},{"x":1.99,"y":3.28},{"x":2.25,"y":3.31},{"x":2.69,"y":3.29},{"x":2.86,"y":3.25},{"x":3.22,"y":3.25},
{"x":2.04,"y":3.19},{"x":2.31,"y":3.2},{"x":2.5,"y":3.15},{"x":2.65,"y":3.08},{"x":3.22,"y":3.08},{"x":4.31,"y":3.06},
{"x":1.28,"y":3.0},{"x":1.4,"y":3.03},{"x":1.51,"y":3.01},{"x":1.66,"y":3.0},{"x":1.78,"y":3.0},{"x":1.91,"y":3.03},{"x":1.32,"y":2.95},{"x":1.53,"y":2.93},
{"x":1.21,"y":2.82},{"x":1.53,"y":2.87},{"x":1.68,"y":2.85},{"x":1.8,"y":2.82},{"x":2.06,"y":2.82},{"x":2.14,"y":2.8},{"x":2.46,"y":2.82},{"x":3.01,"y":2.85},{"x":3.26,"y":2.85},
{"x":1.26,"y":2.72},{"x":1.53,"y":2.77},{"x":1.74,"y":2.79},{"x":1.8,"y":2.7},{"x":2.52,"y":2.65},{"x":2.58,"y":2.6},
{"x":1.26,"y":2.62},{"x":1.36,"y":2.63},{"x":1.53,"y":2.62},{"x":1.68,"y":2.61},{"x":2.1,"y":2.55},{"x":1.95,"y":2.5},
{"x":1.59,"y":2.49},{"x":1.85,"y":2.47},{"x":2.52,"y":2.36},{"x":2.06,"y":2.35},
{"x":1.17,"y":2.33},{"x":1.21,"y":2.29},{"x":1.36,"y":2.25},{"x":1.13,"y":2.23},{"x":1.26,"y":2.2},{"x":1.47,"y":2.29},{"x":1.64,"y":2.33},{"x":1.83,"y":2.19},{"x":1.95,"y":2.03},
{"x":1.21,"y":2.1},{"x":1.3,"y":2.06},{"x":1.68,"y":2.0},
{"x":1.11,"y":1.93},{"x":1.21,"y":1.9},{"x":1.42,"y":1.92},{"x":1.68,"y":1.9},{"x":1.93,"y":1.91},{"x":1.32,"y":1.85},{"x":1.42,"y":1.8},
{"x":1.11,"y":1.75},{"x":1.19,"y":1.7},{"x":1.36,"y":1.7},{"x":1.85,"y":1.74},{"x":2.52,"y":1.77},{"x":2.52,"y":1.67},{"x":6.21,"y":1.81},
{"x":1.15,"y":1.63},{"x":1.4,"y":1.65},{"x":1.23,"y":1.53},{"x":1.13,"y":1.43},{"x":1.26,"y":1.38},{"x":1.47,"y":1.37},{"x":1.95,"y":1.49},{"x":1.95,"y":1.42}]
},
"resolve": {"scale": {"fill": "independent"}, "legend": {"fill": "independent"}},
"vconcat": [
{"spacing": 38, "resolve": {"scale": {"fill": "independent"}, "legend": {"fill": "independent"}}, "hconcat": [
{"title": {"text": "A"}, "width": 275, "height": 277, "view": {"stroke": "#444"},
 "layer": [
  {"data": {"name": "aEll"}, "mark": {"type": "line", "fillOpacity": 0.22, "strokeWidth": 0, "strokeOpacity": 0},
   "encoding": {
    "x": {"field": "x", "type": "quantitative", "scale": {"domain": [-41.5, 60.4], "nice": false, "zero": false}, "axis": {"values": [-40,-20,0,20,40,60], "title": "PC1(46%)", "grid": true, "labelPadding": 1, "titlePadding": 16}},
    "y": {"field": "y", "type": "quantitative", "scale": {"domain": [-65.8, 60.5], "nice": false, "zero": false}, "axis": {"values": [-60,-40,-20,0,20,40,60], "title": "PC2(13.9%)", "grid": true, "titlePadding": 3}},
    "fill": {"field": "g", "type": "nominal", "scale": {"domain": ["control","ozone"], "range": ["#FF0000","#00CC00"]},
      "legend": {"title": null, "orient": "top-right", "offset": 0, "padding": 6, "strokeColor": "#000", "fillColor": "white", "labelFontSize": 9, "labelFont": "Liberation Sans", "labelColor": "#222", "symbolSize": 25, "symbolType": "circle", "symbolOpacity": 1, "symbolStrokeWidth": 0, "rowPadding": 1, "labelOffset": 4}},
    "order": {"field": "t", "type": "quantitative"}}},
  {"data": {"name": "aPts"}, "mark": {"type": "point", "shape": "circle", "filled": true, "size": 70, "stroke": "#000", "strokeWidth": 0.8, "fillOpacity": 0.55, "strokeOpacity": 1},
   "encoding": {
    "x": {"field": "x", "type": "quantitative", "scale": {"domain": [-41.5, 60.4], "nice": false, "zero": false}, "axis": {"values": [-40,-20,0,20,40,60], "title": "PC1(46%)", "grid": true, "labelPadding": 1, "titlePadding": 16}},
    "y": {"field": "y", "type": "quantitative", "scale": {"domain": [-65.8, 60.5], "nice": false, "zero": false}, "axis": {"values": [-60,-40,-20,0,20,40,60], "title": "PC2(13.9%)", "grid": true, "titlePadding": 3}},
    "fill": {"field": "g", "type": "nominal", "scale": {"domain": ["control","ozone"], "range": ["#FF0000","#00CC00"]},
      "legend": {"title": null, "orient": "top-right", "offset": 0, "padding": 6, "strokeColor": "#000", "fillColor": "white", "labelFontSize": 9, "labelFont": "Liberation Sans", "labelColor": "#222", "symbolSize": 25, "symbolType": "circle", "symbolOpacity": 1, "symbolStrokeWidth": 0, "rowPadding": 1, "labelOffset": 4}}}}
 ]},
{"title": {"text": "B"}, "width": 267, "height": 277, "view": {"stroke": "#444"},
 "layer": [
  {"data": {"name": "bEll"}, "mark": {"type": "line", "fillOpacity": 0.22, "strokeWidth": 0, "strokeOpacity": 0},
   "encoding": {
    "x": {"field": "x", "type": "quantitative", "scale": {"domain": [-38.5, 30.2], "nice": false, "zero": false}, "axis": {"values": [-30,-20,-10,0,10,20,30], "title": "PC1(43.6%)", "grid": true, "labelPadding": 1, "titlePadding": 16}},
    "y": {"field": "y", "type": "quantitative", "scale": {"domain": [-46.9, 48.5], "nice": false, "zero": false}, "axis": {"values": [-40,-20,0,20,40], "title": "PC2(15.3%)", "grid": true, "titlePadding": 3}},
    "fill": {"field": "g", "type": "nominal", "scale": {"domain": ["control","ozone"], "range": ["#FF0000","#00CC00"]},
      "legend": {"title": null, "orient": "top-right", "offset": 0, "padding": 6, "strokeColor": "#000", "fillColor": "white", "labelFontSize": 9, "labelFont": "Liberation Sans", "labelColor": "#222", "symbolSize": 25, "symbolType": "circle", "symbolOpacity": 1, "symbolStrokeWidth": 0, "rowPadding": 1, "labelOffset": 4}},
    "order": {"field": "t", "type": "quantitative"}}},
  {"data": {"name": "bPts"}, "mark": {"type": "point", "shape": "circle", "filled": true, "size": 70, "stroke": "#000", "strokeWidth": 0.8, "fillOpacity": 0.55, "strokeOpacity": 1},
   "encoding": {
    "x": {"field": "x", "type": "quantitative", "scale": {"domain": [-38.5, 30.2], "nice": false, "zero": false}, "axis": {"values": [-30,-20,-10,0,10,20,30], "title": "PC1(43.6%)", "grid": true, "labelPadding": 1, "titlePadding": 16}},
    "y": {"field": "y", "type": "quantitative", "scale": {"domain": [-46.9, 48.5], "nice": false, "zero": false}, "axis": {"values": [-40,-20,0,20,40], "title": "PC2(15.3%)", "grid": true, "titlePadding": 3}},
    "fill": {"field": "g", "type": "nominal", "scale": {"domain": ["control","ozone"], "range": ["#FF0000","#00CC00"]},
      "legend": {"title": null, "orient": "top-right", "offset": 0, "padding": 6, "strokeColor": "#000", "fillColor": "white", "labelFontSize": 9, "labelFont": "Liberation Sans", "labelColor": "#222", "symbolSize": 25, "symbolType": "circle", "symbolOpacity": 1, "symbolStrokeWidth": 0, "rowPadding": 1, "labelOffset": 4}}}}
 ]}
]},
{"spacing": 52, "hconcat": [
{"title": {"text": "C", "offset": 6}, "width": 277, "height": 273, "view": {"stroke": "#999"},
 "layer": [
  {"data": {"values": [{"x": -1}, {"x": 1}]}, "mark": {"type": "rule", "color": "#C8C8C8", "strokeDash": [2, 2], "strokeWidth": 1},
   "encoding": {"x": {"field": "x", "type": "quantitative", "scale": {"domain": [-7.7, 6.72], "nice": false, "zero": false}, "axis": {"values": [-4,0,4], "title": "log2 (fold change)", "grid": false, "labelFontSize": 14, "labelPadding": -1, "titlePadding": 3}}}},
  {"data": {"values": [{"y": 1.3}]}, "mark": {"type": "rule", "color": "#C8C8C8", "strokeDash": [2, 2], "strokeWidth": 1},
   "encoding": {"y": {"field": "y", "type": "quantitative", "scale": {"domain": [-0.3, 5.97], "nice": false, "zero": false}, "axis": {"values": [0,2,4], "title": "-log10 (q-value)", "grid": false, "labelFontSize": 14, "titlePadding": 6, "labelPadding": 6}}}},
  {"data": {"name": "cGray"}, "mark": {"type": "circle", "size": 11, "opacity": 1, "color": "#BEBEBE"},
   "encoding": {
    "x": {"field": "x", "type": "quantitative", "scale": {"domain": [-7.7, 6.72], "nice": false, "zero": false}, "axis": {"values": [-4,0,4], "title": "log2 (fold change)", "grid": false, "labelFontSize": 14, "labelPadding": -1, "titlePadding": 3}},
    "y": {"field": "y", "type": "quantitative", "scale": {"domain": [-0.3, 5.97], "nice": false, "zero": false}, "axis": {"values": [0,2,4], "title": "-log10 (q-value)", "grid": false, "labelFontSize": 14, "titlePadding": 6, "labelPadding": 6}}}},
  {"data": {"name": "cDown"}, "mark": {"type": "circle", "size": 11, "opacity": 1, "color": "#0000FF"},
   "encoding": {
    "x": {"field": "x", "type": "quantitative", "scale": {"domain": [-7.7, 6.72], "nice": false, "zero": false}, "axis": {"values": [-4,0,4], "title": "log2 (fold change)", "grid": false, "labelFontSize": 14, "labelPadding": -1, "titlePadding": 3}},
    "y": {"field": "y", "type": "quantitative", "scale": {"domain": [-0.3, 5.97], "nice": false, "zero": false}, "axis": {"values": [0,2,4], "title": "-log10 (q-value)", "grid": false, "labelFontSize": 14, "titlePadding": 6, "labelPadding": 6}}}},
  {"data": {"name": "cUp"}, "mark": {"type": "circle", "size": 11, "opacity": 1, "color": "#FF0000"},
   "encoding": {
    "x": {"field": "x", "type": "quantitative", "scale": {"domain": [-7.7, 6.72], "nice": false, "zero": false}, "axis": {"values": [-4,0,4], "title": "log2 (fold change)", "grid": false, "labelFontSize": 14, "labelPadding": -1, "titlePadding": 3}},
    "y": {"field": "y", "type": "quantitative", "scale": {"domain": [-0.3, 5.97], "nice": false, "zero": false}, "axis": {"values": [0,2,4], "title": "-log10 (q-value)", "grid": false, "labelFontSize": 14, "titlePadding": 6, "labelPadding": 6}}}}
 ]},
{"title": {"text": "D", "offset": 6}, "width": 278, "height": 273, "view": {"stroke": "#999"},
 "layer": [
  {"data": {"values": [{"x": -1}, {"x": 1}]}, "mark": {"type": "rule", "color": "#C8C8C8", "strokeDash": [2, 2], "strokeWidth": 1},
   "encoding": {"x": {"field": "x", "type": "quantitative", "scale": {"domain": [-9.0, 8.58], "nice": false, "zero": false}, "axis": {"values": [-5,0,5], "title": "log2 (fold change)", "grid": false, "labelFontSize": 14, "labelPadding": -1, "titlePadding": 3}}}},
  {"data": {"values": [{"y": 1.3}]}, "mark": {"type": "rule", "color": "#C8C8C8", "strokeDash": [2, 2], "strokeWidth": 1},
   "encoding": {"y": {"field": "y", "type": "quantitative", "scale": {"domain": [-0.26, 5.17], "nice": false, "zero": false}, "axis": {"values": [0,1,2,3,4,5], "title": "-log10 (q-value)", "grid": false, "labelFontSize": 14, "titlePadding": 15, "labelPadding": 3}}}},
  {"data": {"name": "dGray"}, "mark": {"type": "circle", "size": 11, "opacity": 1, "color": "#BEBEBE"},
   "encoding": {
    "x": {"field": "x", "type": "quantitative", "scale": {"domain": [-9.0, 8.58], "nice": false, "zero": false}, "axis": {"values": [-5,0,5], "title": "log2 (fold change)", "grid": false, "labelFontSize": 14, "labelPadding": -1, "titlePadding": 3}},
    "y": {"field": "y", "type": "quantitative", "scale": {"domain": [-0.26, 5.17], "nice": false, "zero": false}, "axis": {"values": [0,1,2,3,4,5], "title": "-log10 (q-value)", "grid": false, "labelFontSize": 14, "titlePadding": 15, "labelPadding": 3}}}},
  {"data": {"name": "dDown"}, "mark": {"type": "circle", "size": 11, "opacity": 1, "color": "#0000FF"},
   "encoding": {
    "x": {"field": "x", "type": "quantitative", "scale": {"domain": [-9.0, 8.58], "nice": false, "zero": false}, "axis": {"values": [-5,0,5], "title": "log2 (fold change)", "grid": false, "labelFontSize": 14, "labelPadding": -1, "titlePadding": 3}},
    "y": {"field": "y", "type": "quantitative", "scale": {"domain": [-0.26, 5.17], "nice": false, "zero": false}, "axis": {"values": [0,1,2,3,4,5], "title": "-log10 (q-value)", "grid": false, "labelFontSize": 14, "titlePadding": 15, "labelPadding": 3}}}},
  {"data": {"name": "dUp"}, "mark": {"type": "circle", "size": 11, "opacity": 1, "color": "#FF0000"},
   "encoding": {
    "x": {"field": "x", "type": "quantitative", "scale": {"domain": [-9.0, 8.58], "nice": false, "zero": false}, "axis": {"values": [-5,0,5], "title": "log2 (fold change)", "grid": false, "labelFontSize": 14, "labelPadding": -1, "titlePadding": 3}},
    "y": {"field": "y", "type": "quantitative", "scale": {"domain": [-0.26, 5.17], "nice": false, "zero": false}, "axis": {"values": [0,1,2,3,4,5], "title": "-log10 (q-value)", "grid": false, "labelFontSize": 14, "titlePadding": 15, "labelPadding": 3}}}}
 ]}
]}
],
"spacing": 4,
"config": {
 "font": "Liberation Sans",
 "view": {"stroke": "#555"},
 "axis": {"domain": false, "labelFont": "Liberation Sans", "titleFont": "Liberation Sans", "labelColor": "#1a1a1a", "titleColor": "#1a1a1a", "titleFontWeight": "normal", "tickColor": "#333", "tickSize": 3, "labelPadding": 3, "gridColor": "#DEDEDE", "labelFontSize": 15, "titleFontSize": 15, "labelFlush": false, "labelOverlap": false},
 "title": {"font": "Liberation Sans", "fontSize": 14, "fontWeight": "bold", "anchor": "start", "frame": "bounds", "color": "#000", "offset": -1}
}
}
